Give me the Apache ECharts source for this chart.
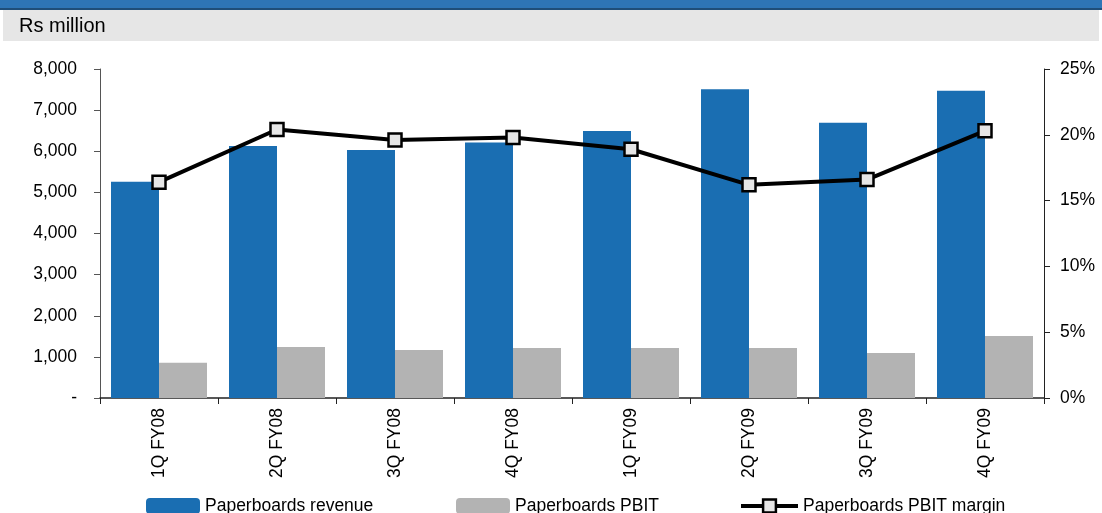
<!DOCTYPE html>
<html>
<head>
<meta charset="utf-8">
<script src="https://cdn.jsdelivr.net/npm/echarts@6/dist/echarts.min.js"></script>
<style>
html,body{margin:0;padding:0;background:#fff;}
#c{width:1102px;height:513px;}
</style>
</head>
<body>
<div id="c"></div>
<script>
const categories = ['1Q FY08','2Q FY08','3Q FY08','4Q FY08','1Q FY09','2Q FY09','3Q FY09','4Q FY09'];
const revenue = [5260, 6130, 6030, 6210, 6490, 7510, 6690, 7470];
const pbit = [860, 1240, 1170, 1215, 1215, 1215, 1095, 1510];
const pbitMargin = [16.4, 20.4, 19.6, 19.8, 18.9, 16.2, 16.6, 20.3];
const leftTicks = {min: 0, max: 8000, interval: 1000};
const rightTicks = {min: 0, max: 25, interval: 5};
const unitLabel = 'Rs million';

const FONT = '"Liberation Sans", Arial, sans-serif';
const chart = echarts.init(document.getElementById('c'), null, {renderer: 'canvas'});
const txt = {color: '#000', fontFamily: FONT, fontSize: 17.5};

chart.setOption({
  animation: false,
  backgroundColor: '#fff',
  graphic: [
    {type: 'rect', shape: {x: 0, y: 0, width: 1102, height: 8}, style: {fill: '#2e75b6'}},
    {type: 'rect', shape: {x: 0, y: 8, width: 1102, height: 2}, style: {fill: '#1f4e79'}},
    {type: 'rect', shape: {x: 3, y: 10, width: 1096, height: 31}, style: {fill: '#e6e6e6'}},
    {type: 'text', left: 19, top: 16, style: {text: unitLabel, fill: '#000', font: '20px ' + FONT}}
  ],
  grid: {left: 100, right: 58, top: 69, bottom: 115, containLabel: false},
  legend: [
    {data: ['Paperboards revenue'], left: 146, top: 497, itemWidth: 54, itemHeight: 16, textStyle: txt, padding: 0},
    {data: ['Paperboards PBIT'], left: 456, top: 497, itemWidth: 54, itemHeight: 16, textStyle: txt, padding: 0},
    {data: ['Paperboards PBIT margin'], left: 739, top: 497, itemWidth: 57, itemHeight: 16, textStyle: txt, padding: 0,
     lineStyle: {width: 4, color: '#000'},
     itemStyle: {color: '#e6e6e6', borderColor: '#000', borderWidth: 2.5}}
  ],
  xAxis: {
    type: 'category',
    data: categories,
    axisLine: {lineStyle: {color: '#222', width: 1.5}},
    axisTick: {show: true, alignWithLabel: false, length: 6, lineStyle: {color: '#222'}},
    axisLabel: Object.assign({rotate: 90, margin: 10, interval: 0}, txt),
    splitLine: {show: false}
  },
  yAxis: [
    {
      type: 'value', min: leftTicks.min, max: leftTicks.max, interval: leftTicks.interval,
      axisLine: {show: true, lineStyle: {color: '#555'}},
      axisTick: {show: true, length: 6, lineStyle: {color: '#555'}},
      splitLine: {show: false},
      axisLabel: Object.assign({margin: 23, formatter: v => v === 0 ? '-' : v.toLocaleString('en-US')}, txt)
    },
    {
      type: 'value', min: rightTicks.min, max: rightTicks.max, interval: rightTicks.interval,
      position: 'right',
      axisLine: {show: true, lineStyle: {color: '#222'}},
      axisTick: {show: true, length: 6, lineStyle: {color: '#222'}},
      splitLine: {show: false},
      axisLabel: Object.assign({margin: 16, formatter: v => v + '%'}, txt)
    }
  ],
  series: [
    {name: 'Paperboards revenue', type: 'bar', data: revenue, barWidth: 48, barGap: '0%',
     itemStyle: {color: '#1a6eb2'}},
    {name: 'Paperboards PBIT', type: 'bar', data: pbit, barWidth: 48, barGap: '0%',
     itemStyle: {color: '#b3b3b3'}},
    {name: 'Paperboards PBIT margin', type: 'line', yAxisIndex: 1, data: pbitMargin,
     symbol: 'rect', symbolSize: 13,
     lineStyle: {color: '#000', width: 4},
     itemStyle: {color: '#e6e6e6', borderColor: '#000', borderWidth: 2.5}, z: 5}
  ]
});
</script>
</body>
</html>
